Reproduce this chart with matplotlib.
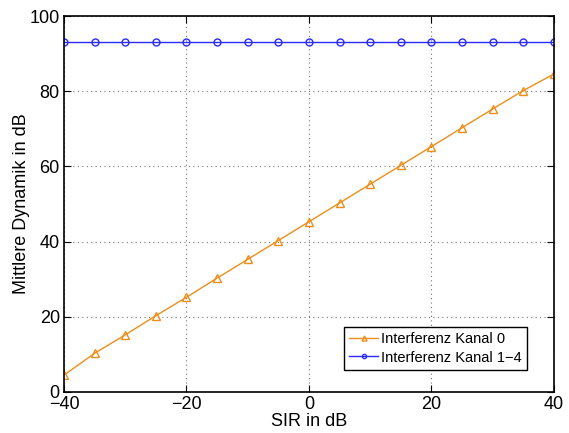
import matplotlib
matplotlib.use("Agg")
import matplotlib.pyplot as plt
import numpy as np

plt.rcParams['font.family'] = ['Liberation Sans', 'DejaVu Sans']

# SIR values and average dynamic range per interference channel
sir = [-40, -35, -30, -25, -20, -15, -10, -5, 0, 5, 10, 15, 20, 25, 30, 35, 40]
kanal0 = [4.5, 10.3, 15.2, 20.3, 25.2, 30.3, 35.3, 40.3, 45.3, 50.3, 55.3,
          60.3, 65.3, 70.3, 75.3, 80.2, 84.6]
kanal14 = [93.1] * len(sir)

fig = plt.figure(figsize=(5.69, 4.33), dpi=100)
ax = fig.add_axes([0.1125, 0.0947, 0.861, 0.868])

ax.plot(sir, kanal0, color='#EE8E1A', marker='^', markersize=6,
        markerfacecolor='none', markeredgecolor='#EE8E1A', lw=1,
        label='Interferenz Kanal 0')
ax.plot(sir, kanal14, color='#2B2BFF', marker='o', markersize=5,
        markerfacecolor='none', markeredgecolor='#2B2BFF', lw=1,
        label='Interferenz Kanal 1\u22124')

ax.set_xlim(-40, 40)
ax.set_ylim(0, 100)
ax.set_xticks([-40, -20, 0, 20, 40])
ax.set_yticks([0, 20, 40, 60, 80, 100])
ax.set_xticklabels(['\u221240', '\u221220', '0', '20', '40'])
ax.grid(True, linestyle=(0, (1, 3)), color='#777777', lw=0.8)
ax.tick_params(direction='in', top=True, right=True, labelsize=13, length=5, pad=3)
for s in ax.spines.values():
    s.set_linewidth(1.2)

ax.set_xlabel('SIR in dB', fontsize=13, labelpad=0)
ax.set_ylabel('Mittlere Dynamik in dB', fontsize=13, labelpad=0)

leg = ax.legend(loc='lower right', fontsize=10.5, fancybox=False, framealpha=1,
                edgecolor='black', borderpad=0.35, handlelength=2.0,
                handletextpad=0.2, labelspacing=0.3, markerscale=0.6,
                bbox_to_anchor=(0.96, 0.04))
leg.get_frame().set_linewidth(1.0)

fig.savefig('out.png', dpi=100)
